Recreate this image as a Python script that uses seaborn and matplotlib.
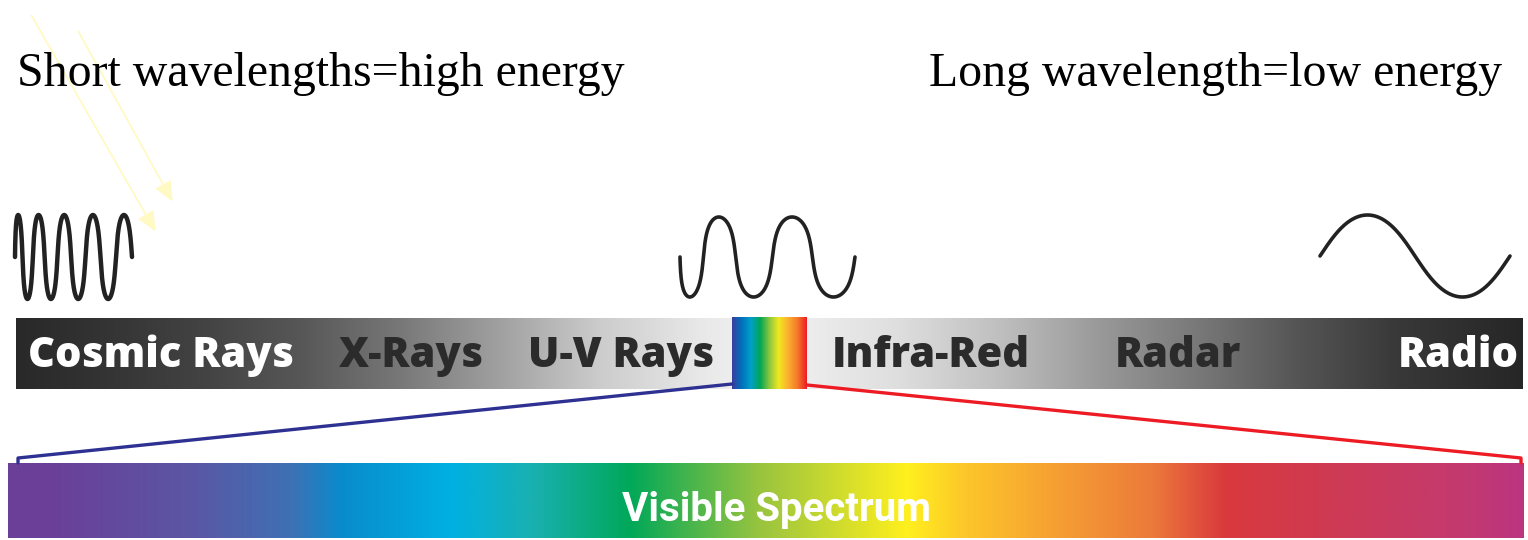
import numpy as np
import matplotlib
matplotlib.use("Agg")
import matplotlib.pyplot as plt
from matplotlib.colors import LinearSegmentedColormap, to_rgb
import seaborn as sns

# --- data ---
band_labels = ["Cosmic Rays", "X-Rays", "U-V Rays", "Infra-Red", "Radar", "Radio"]
band_centers = [161, 411, 621, 931, 1178, 1458]
band_text_colors = ["white", "#2b2b2b", "#2b2b2b", "#2b2b2b", "#2b2b2b", "white"]

# grey strip, left half (dark -> light) and right half (light -> dark)
grey_left_x = [16, 100, 200, 300, 400, 500, 600, 700, 732]
grey_left_v = [0.16, 0.20, 0.26, 0.34, 0.47, 0.63, 0.80, 0.91, 0.93]
grey_right_x = [807, 900, 1000, 1100, 1200, 1300, 1400, 1523]
grey_right_v = [0.93, 0.87, 0.75, 0.60, 0.47, 0.33, 0.22, 0.15]

# small rainbow slot in the grey strip
slot_colors = ["#3a3f9f", "#0070bb", "#00a0c8", "#00a653", "#8dc63f",
               "#f0e81e", "#fbb030", "#f47a2a", "#ed1c24"]

# big visible spectrum strip
vis_x = [8, 48, 194, 290, 340, 450, 533, 630, 760, 907, 966, 1054, 1152, 1226, 1324, 1446, 1524]
vis_colors = ["#6b3f98", "#6b3f98", "#5a57a5", "#3f70b4", "#0a8bcb", "#00b0e3", "#1ab0b0",
              "#00a859", "#99c43f", "#fff01e", "#fdc62a", "#f6a033", "#ec7a3a", "#d9393d",
              "#cf3a52", "#c53a6c", "#bb3580"]

# waves above the strip: cycles, start/end x, mid y, amplitude, first direction,
# chirp warp, bulge of the humps
wave_cycles = [4.5, 2.5, 1.0]
wave_x0 = [15, 680, 1320]
wave_x1 = [132, 855, 1510]
wave_mid = [257, 257, 256]
wave_amp = [42, 40, 41]
wave_dir = [1, -1, 1]
wave_warp = [1.25, 1.25, 1.0]
wave_bulge = [0.45, 0.6, 0.1]
wave_lw = [3.2, 2.6, 2.6]

top_left_text = "Short wavelengths=high energy"
top_right_text = "Long wavelength=low energy"

sns.set_theme(style="white")
plt.rcParams["font.family"] = ["DejaVu Sans"]

fig = plt.figure(figsize=(15.28, 5.4), dpi=100)
ax = fig.add_axes([0, 0, 1, 1])

# grey strip
xs = np.arange(16, 1524)
levels = np.where(xs <= 770,
                  np.interp(xs, grey_left_x, grey_left_v),
                  np.interp(xs, grey_right_x, grey_right_v))
grey_img = np.repeat(levels[None, :, None], 3, axis=2)
ax.imshow(grey_img, extent=(16, 1523, 389, 318), aspect="auto", interpolation="bilinear", zorder=1)

slot_cmap = LinearSegmentedColormap.from_list("slot", slot_colors)
ax.imshow(np.linspace(0, 1, 200)[None, :], cmap=slot_cmap, extent=(732, 807, 389, 317),
          aspect="auto", interpolation="bilinear", zorder=2)

# visible spectrum strip
vx = np.arange(vis_x[0], vis_x[-1] + 1)
rgb = np.array([to_rgb(c) for c in vis_colors])
vis_img = np.stack([np.interp(vx, vis_x, rgb[:, k]) for k in range(3)], axis=1)[None, :, :]
ax.imshow(vis_img, extent=(vis_x[0], vis_x[-1], 538, 463), aspect="auto",
          interpolation="bilinear", zorder=1)

# connector lines
sns.lineplot(x=[732, 18, 18], y=[384, 458, 463], sort=False, estimator=None,
             color="#2e3192", lw=2.4, ax=ax, zorder=3)
sns.lineplot(x=[807, 1521, 1521], y=[385, 458, 463], sort=False, estimator=None,
             color="#ed1c24", lw=2.4, ax=ax, zorder=3)

# waves
for cyc, x0, x1, ym, amp, d, w, k, lw in zip(wave_cycles, wave_x0, wave_x1, wave_mid,
                                             wave_amp, wave_dir, wave_warp, wave_bulge,
                                             wave_lw):
    th = np.linspace(0, 2 * np.pi * cyc, 900)
    # slow down at the crossings so the humps get round, near-vertical sides
    u = (th - 0.5 * k * np.sin(2 * th)) / th[-1]
    wx = x0 + (x1 - x0) * u ** w
    wy = ym - d * amp * np.sin(th)
    sns.lineplot(x=wx, y=wy, sort=False, estimator=None, color="#222222", lw=lw,
                 ax=ax, zorder=3, solid_capstyle="round")

# faint yellow arrows top left
for (xa, ya), (xb, yb) in [((30, 13), (157, 234)), ((77, 29), (174, 204))]:
    ax.annotate("", xy=(xb, yb), xytext=(xa, ya),
                arrowprops=dict(arrowstyle="-|>,head_length=1.0,head_width=0.45",
                                color="#fffac4", lw=1.3))

# band labels
for lab, cx, col in zip(band_labels, band_centers, band_text_colors):
    ax.text(cx, 367, lab, ha="center", va="baseline", color=col, fontsize=30,
            fontweight=800, family=["Open Sans", "DejaVu Sans"], zorder=4)

ax.text(776, 521, "Visible Spectrum", ha="center", va="baseline", color="white",
        fontsize=29, fontweight="bold", family=["Roboto", "DejaVu Sans"], zorder=4)

ax.text(17, 86, top_left_text, ha="left", va="baseline", fontsize=34.4,
        family=["Liberation Serif", "DejaVu Serif"], color="black")
ax.text(1502, 86, top_right_text, ha="right", va="baseline", fontsize=34.4,
        family=["Liberation Serif", "DejaVu Serif"], color="black")

ax.set_xlim(0, 1528)
ax.set_ylim(540, 0)
ax.axis("off")

fig.savefig("out.png", dpi=100, facecolor="white")
